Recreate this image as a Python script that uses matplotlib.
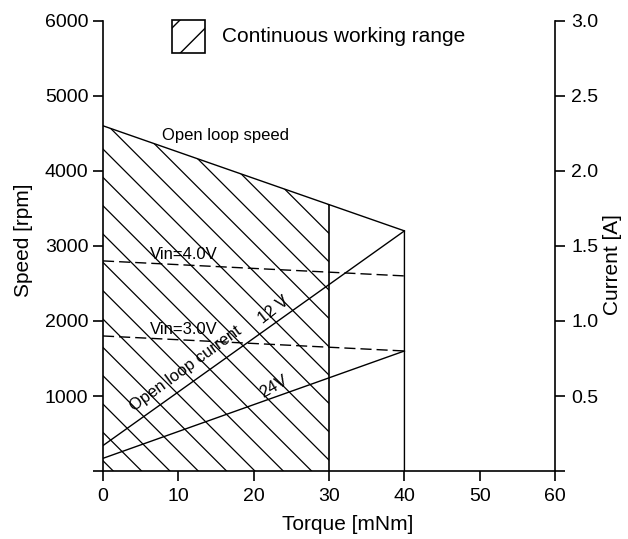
import numpy as np
import matplotlib
matplotlib.use("Agg")
import matplotlib.pyplot as plt
from matplotlib.patches import Polygon, Rectangle

plt.rcParams['font.family'] = ['Liberation Sans', 'DejaVu Sans']

# data
torque_ticks = [0, 10, 20, 30, 40, 50, 60]
speed_ticks = [0, 1000, 2000, 3000, 4000, 5000, 6000]
current_ticks = [0.0, 0.5, 1.0, 1.5, 2.0, 2.5, 3.0]

# open loop speed (rpm)
speed_torque = [0, 40, 40]
speed_rpm = [4600, 3200, 0]

# closed loop speed at fixed input voltage (rpm)
vin_torque = [0, 40]
vin4_rpm = [2800, 2600]
vin3_rpm = [1800, 1600]

# open loop current (A)
cur_torque = [0, 40]
cur_12v = [0.17, 1.6]
cur_24v = [0.085, 0.8]

cont_torque = 30  # continuous working range limit

fig = plt.figure(figsize=(6.28, 5.39), dpi=100)
ax = fig.add_axes([0.164, 0.126, 0.720, 0.8356])
ax2 = ax.twinx()

ax.set_xlim(0, 60)
ax.set_ylim(0, 6000)
ax2.set_ylim(0, 3.0)

lc = 'black'
lw = 1.0

# hatched continuous working range
top_speed = np.interp(cont_torque, speed_torque[:2], speed_rpm[:2])
region = Polygon([(0, 0), (0, speed_rpm[0]), (cont_torque, top_speed), (cont_torque, 0)],
                 closed=True, facecolor='none', edgecolor='none')
ax.add_patch(region)
# 45 degree hatch lines in pixels
w_px = 0.720 * 628
h_px = 0.8356 * 539
slope = (6000 / h_px) / (60 / w_px)
for x0 in np.arange(1.37, 80, 3.76):
    hl, = ax.plot([x0, x0 - 70], [0, 70 * slope], color=lc, lw=0.9)
    hl.set_clip_path(region)
ax.plot([cont_torque, cont_torque], [0, top_speed], color=lc, lw=1.2)

# open loop speed
ax.plot(speed_torque, speed_rpm, color=lc, lw=lw)

# Vin lines
ax.plot(vin_torque, vin4_rpm, color=lc, lw=lw, dashes=(8, 3.6))
ax.plot(vin_torque, vin3_rpm, color=lc, lw=lw, dashes=(8, 3.6))

# currents
ax2.plot(cur_torque, cur_12v, color=lc, lw=lw)
ax2.plot(cur_torque, cur_24v, color=lc, lw=lw)

# annotations
ax.text(7.8, 4470, 'Open loop speed', fontsize=12, va='center', ha='left')
ax.text(6.2, 2890, 'Vin=4.0V', fontsize=12, va='center', ha='left')
ax.text(6.2, 1880, 'Vin=3.0V', fontsize=12, va='center', ha='left')
ax.text(11.0, 1360, 'Open loop current', fontsize=12, va='center', ha='center',
        rotation=36, rotation_mode='anchor')
ax.text(22.6, 2150, '12 V', fontsize=12, va='center', ha='center',
        rotation=38, rotation_mode='anchor')
ax.text(22.7, 1130, '24V', fontsize=12, va='center', ha='center',
        rotation=30, rotation_mode='anchor')

# legend box
ax.add_patch(Rectangle((0.152, 0.929), 0.0737, 0.0726, transform=ax.transAxes,
                       facecolor='white', edgecolor=lc, lw=1.2, hatch='/', clip_on=False))
ax.text(0.2626, 0.9645, 'Continuous working range', transform=ax.transAxes,
        fontsize=15, va='center', ha='left')

# axes styling
for a in (ax, ax2):
    a.spines['top'].set_visible(False)
    for s in a.spines.values():
        s.set_linewidth(1.2)
ax.spines['right'].set_visible(False)
ax2.spines['left'].set_visible(False)
ax2.spines['bottom'].set_visible(False)

ax.set_xticks(torque_ticks)
ax.set_xticklabels([str(t) for t in torque_ticks])
ax.set_yticks(speed_ticks)
ax.set_yticklabels([''] + [str(s) for s in speed_ticks[1:]])
ax2.set_yticks(current_ticks)
ax2.set_yticklabels([''] + ['%.1f' % c for c in current_ticks[1:]])

ax.tick_params(axis='x', direction='out', length=7.5, width=1.2, labelsize=14, pad=5)
ax.tick_params(axis='y', direction='out', length=7.5, width=1.2, labelsize=14, pad=3)
ax2.tick_params(axis='y', direction='out', length=7.5, width=1.2, labelsize=14, pad=4)

ax.set_xlabel('Torque [mNm]', fontsize=15)
ax.xaxis.set_label_coords(0.542, -0.098)
ax.set_ylabel('Speed [rpm]', fontsize=15)
ax.yaxis.set_label_coords(-0.155, 0.513)
ax2.set_ylabel('Current [A]', fontsize=15)
ax2.yaxis.set_label_coords(1.106, 0.458)

fig.savefig('out.png', dpi=100)
